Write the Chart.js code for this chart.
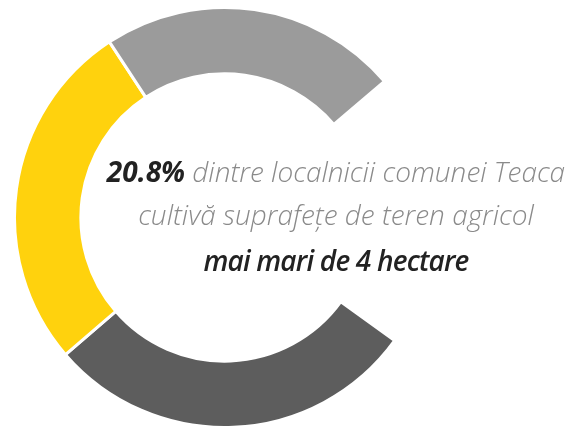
<!DOCTYPE html>
<html>
<head>
<meta charset="utf-8">
<script src="https://cdn.jsdelivr.net/npm/chart.js@4"></script>
<style>
  html, body { margin: 0; padding: 0; background: #fff; overflow: hidden; }
  body { width: 571px; height: 426px; position: relative; }
  .ring { position: absolute; left: 13px; top: 6px; width: 423px; height: 423px; }
  .caption {
    position: absolute; left: 0; top: 150px; width: 672px;
    text-align: center; font-family: "Open Sans", sans-serif; font-style: italic;
    font-weight: 300; font-size: 28px; line-height: 43px; color: #8a8a8a; white-space: nowrap;
  }
  .caption b { color: #222; font-weight: 700; }
  .caption .last { margin-top: 3px; }
  .caption .last b { font-weight: 600; letter-spacing: -0.8px; }
</style>
</head>
<body>
<div class="ring"><canvas id="chart"></canvas></div>
<div class="caption">
  <div><b>20.8%</b> dintre localnicii comunei Teaca</div>
  <div>cultivă suprafețe de teren agricol</div>
  <div class="last"><b>mai mari de 4 hectare</b></div>
</div>
<script>
const labels = ['Categoria 1', 'Categoria 2', 'Categoria 3', ''];
const shares = [28.7, 27.1, 23.0, 21.2];
const colors = ['#5d5d5d', '#ffd20d', '#9b9b9b', 'rgba(0,0,0,0)'];

const ctx = document.getElementById('chart').getContext('2d');

new Chart(ctx, {
  type: 'doughnut',
  data: {
    labels: labels,
    datasets: [
      {
        data: shares,
        backgroundColor: colors,
        borderColor: '#ffffff',
        borderWidth: [3, 3, 3, 0],
      },
    ],
  },
  options: {
    responsive: true,
    maintainAspectRatio: false,
    animation: false,
    cutout: '68.4%',
    rotation: 125.9,
    plugins: {
      legend: { display: false },
      tooltip: { enabled: false },
    },
  },
});
</script>
</body>
</html>
